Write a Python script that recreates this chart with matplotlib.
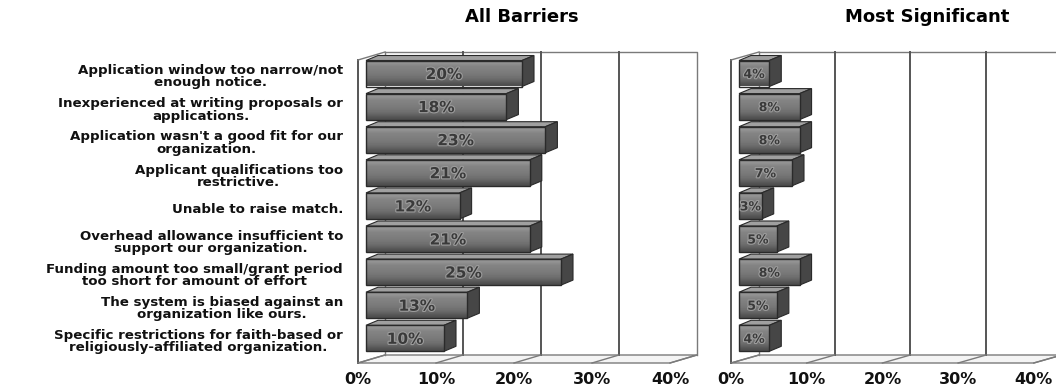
import numpy as np
import matplotlib
matplotlib.use("Agg")
import matplotlib.pyplot as plt
from matplotlib.patches import Rectangle, Polygon
import matplotlib.patheffects as pe

# ---- data ----
categories = [
    "Application window too narrow/not\nenough notice.",
    "Inexperienced at writing proposals or\napplications.",
    "Application wasn't a good fit for our\norganization.",
    "Applicant qualifications too\nrestrictive.",
    "Unable to raise match.",
    "Overhead allowance insufficient to\nsupport our organization.",
    "Funding amount too small/grant period\ntoo short for amount of effort",
    "The system is biased against an\norganization like ours.",
    "Specific restrictions for faith-based or\nreligiously-affiliated organization.",
]
all_barriers = [20, 18, 23, 21, 12, 21, 25, 13, 10]
most_significant = [4, 8, 8, 7, 3, 5, 8, 5, 4]
x_ticks = [0, 10, 20, 30, 40]
titles = ["All Barriers", "Most Significant"]

W, H = 1056, 390
fig = plt.figure(figsize=(W / 100, H / 100), dpi=100)
fig.patch.set_facecolor("white")

# y layout (pixels from top): bar centres, plane top/bottom
ROW0, ROWSTEP = 75.5, 33.1
PLANE_TOP, PLANE_BOT = 60, 363


def ypx(p):
    return (p - ROW0) / ROWSTEP


def make_panel(left_px, right_px, zero_px, scale, depth_px):
    ax = fig.add_axes([left_px / W, 0, (right_px - left_px) / W, (H - 40) / H])
    ax.set_xlim((left_px - zero_px) / scale, (right_px - zero_px) / scale)
    ax.set_ylim(ypx(390), ypx(40))
    ax.axis("off")
    dx = depth_px / scale
    dy = -8 / ROWSTEP
    return ax, dx, dy


def draw_walls(ax, dx, dy):
    top, bot = ypx(PLANE_TOP), ypx(PLANE_BOT)
    lc = "#7a7a7a"
    # floor
    ax.add_patch(Polygon([(0, bot), (40, bot), (40 + dx, bot + dy), (dx, bot + dy)],
                         closed=True, facecolor="#f4f4f4", edgecolor=lc, lw=1.0, zorder=1))
    # back wall frame and gridlines
    ax.plot([dx, 40 + dx, 40 + dx], [top + dy, top + dy, bot + dy], color=lc, lw=1.0, zorder=1)
    for k in x_ticks[1:-1]:
        ax.plot([k + dx, k + dx], [top + dy, bot + dy], color="#555555", lw=1.4, zorder=1)
    ax.plot([dx, dx], [top + dy, bot + dy], color=lc, lw=1.0, zorder=1)
    # left wall
    ax.plot([0, 0], [top, bot], color="#555555", lw=1.4, zorder=2)
    ax.plot([0, dx], [top, top + dy], color=lc, lw=1.0, zorder=2)
    # floor diagonals
    for k in x_ticks:
        ax.plot([k, k + dx], [bot, bot + dy], color=lc, lw=1.0, zorder=2)


def draw_bar(ax, v, yc, scale, fs):
    h = 26 / ROWSTEP
    ox = 8 / scale
    oy = -2 / ROWSTEP
    bdx = 12 / scale
    bdy = -5 / ROWSTEP
    x0, x1 = ox, ox + v
    yt, yb = yc - h / 2 + oy, yc + h / 2 + oy
    # top face
    ax.add_patch(Polygon([(x0, yt), (x1, yt), (x1 + bdx, yt + bdy), (x0 + bdx, yt + bdy)],
                         closed=True, facecolor="#a0a0a0", edgecolor="#2a2a2a", lw=0.8, zorder=4))
    # side face
    ax.add_patch(Polygon([(x1, yt), (x1 + bdx, yt + bdy), (x1 + bdx, yb + bdy), (x1, yb)],
                         closed=True, facecolor="#464646", edgecolor="#2a2a2a", lw=0.8, zorder=4))
    # front face with vertical gradient
    front = Rectangle((x0, yt), v, h, facecolor="none", edgecolor="#2a2a2a", lw=1.0, zorder=6)
    ax.add_patch(front)
    grad = np.array([[0.60], [0.52], [0.50], [0.48], [0.45], [0.40], [0.30]])
    im = ax.imshow(grad, cmap="gray", vmin=0, vmax=1, aspect="auto",
                   extent=(x0, x1, yb, yt), zorder=5, interpolation="bicubic")
    im.set_clip_path(front)
    ax.text((x0 + x1) / 2, (yt + yb) / 2 + 0.03, f"{v}%", ha="center", va="center",
            fontsize=fs, fontweight="bold", color="#3a3a3a", family="DejaVu Sans",
            zorder=7, path_effects=[pe.withStroke(linewidth=1.6, foreground="#9c9c9c")])


def draw_ticks(ax):
    for k in x_ticks:
        ax.text(k, ypx(380), f"{k}%", ha="center", va="center", fontsize=11.5,
                fontweight="bold", family="DejaVu Sans", color="#111111")


# left panel
scale_l = 7.8
ax1, dx1, dy1 = make_panel(300, 712, 358, scale_l, 27)
draw_walls(ax1, dx1, dy1)
for i, v in enumerate(all_barriers):
    draw_bar(ax1, v, i, scale_l, 11)
draw_ticks(ax1)
for i, lab in enumerate(categories):
    ax1.text((343 - 358) / scale_l, i + 0.04, lab, ha="right", va="center", multialignment="center",
             fontsize=9.6, fontweight="bold", family="DejaVu Sans", color="#111111",
             linespacing=0.92)

# right panel
scale_r = 7.57
ax2, dx2, dy2 = make_panel(702, 1056, 731, scale_r, 28)
draw_walls(ax2, dx2, dy2)
for i, v in enumerate(most_significant):
    draw_bar(ax2, v, i, scale_r, 9)
draw_ticks(ax2)

fig.text(522 / W, 1 - 17 / H, titles[0], ha="center", va="center", fontsize=13,
         fontweight="bold", family="DejaVu Sans")
fig.text(927 / W, 1 - 17 / H, titles[1], ha="center", va="center", fontsize=13,
         fontweight="bold", family="DejaVu Sans")

fig.savefig("out.png", dpi=100, facecolor="white")
